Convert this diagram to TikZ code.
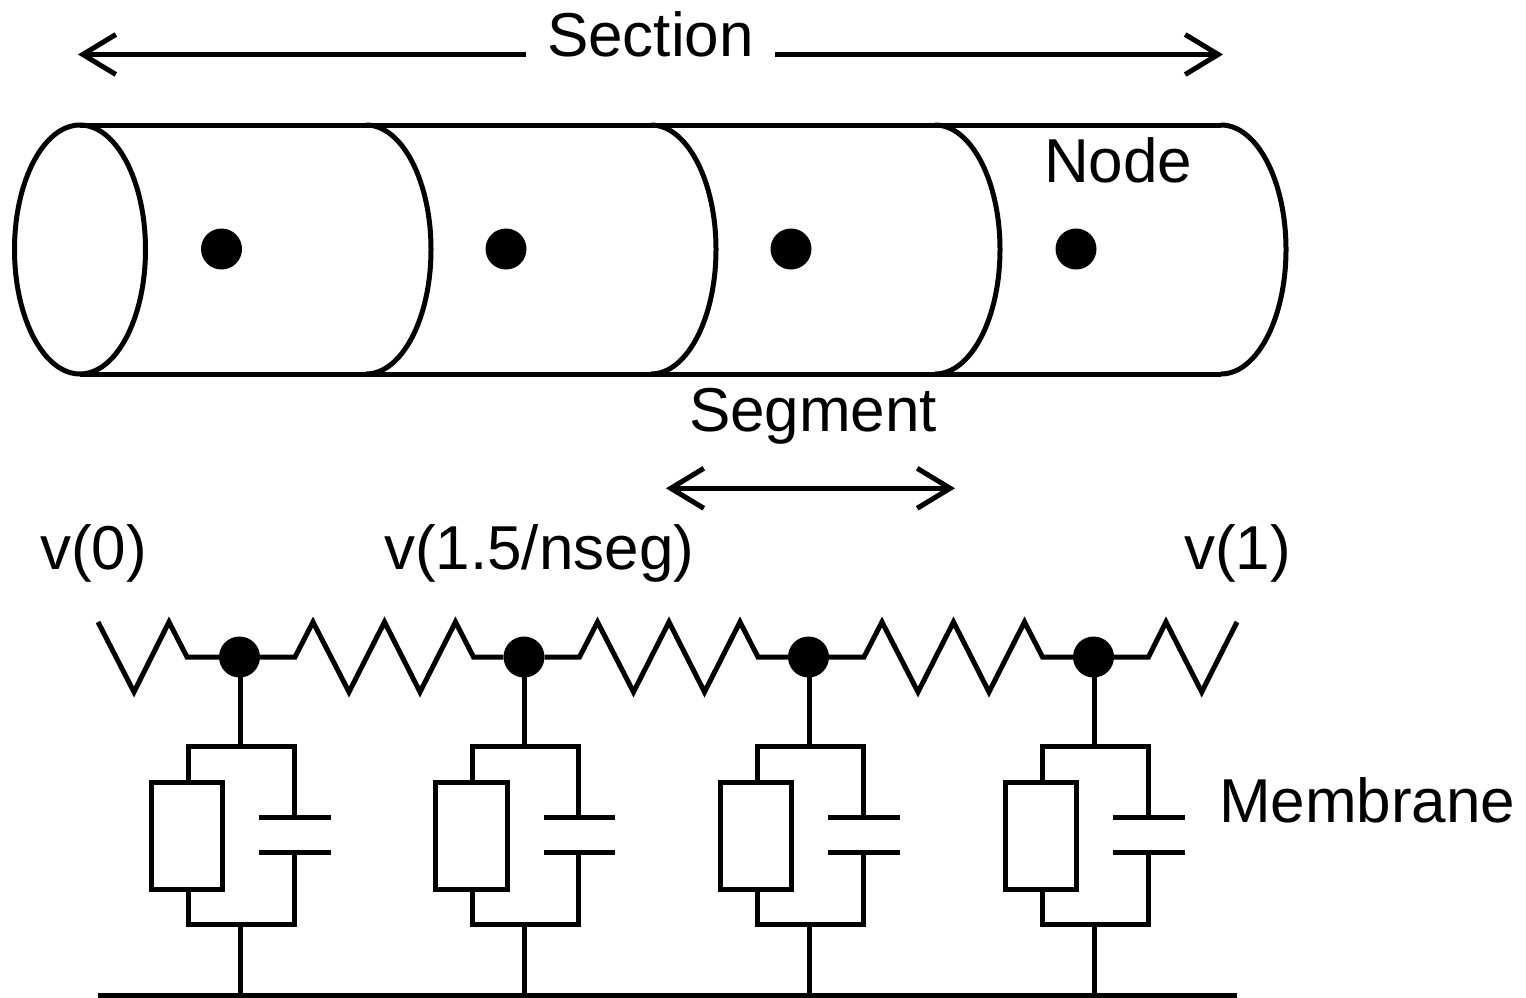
\documentclass[tikz,border=0pt]{standalone}
\usepackage{fontspec}
\setmainfont{Liberation Sans}
\usetikzlibrary{arrows.meta}
\tikzset{
  x=1pt,y=-1pt,
  wire/.style={line width=5pt,draw=black,line join=miter,miter limit=10},
  barbl/.style={wire,{Straight Barb[length=33pt,width=40pt,line width=5pt]}-},
  barbr/.style={wire,-{Straight Barb[length=33pt,width=40pt,line width=5pt]}},
  barbb/.style={wire,{Straight Barb[length=33pt,width=40pt,line width=5pt]}-{Straight Barb[length=33pt,width=40pt,line width=5pt]}},
  lab/.style={anchor=base west,inner sep=0pt,outer sep=0pt,font=\fontsize{62pt}{68pt}\selectfont},
  dot/.style={circle,fill=black,draw=none,inner sep=0pt,minimum size=41pt},
  resbox/.style={rectangle,draw=black,fill=white,line width=5pt,inner sep=0pt,minimum width=71.4pt,minimum height=106.7pt},
}
\begin{document}
\begin{tikzpicture}
\useasboundingbox (0,0) rectangle (1526,998);
% labels
\node[lab] (section) at (547,57) {Section};
\node[lab] (nodelab) at (1044,182) {Node};
\node[lab] (segment) at (689,431) {Segment};
\node[lab] (v0) at (40,569) {v(0)};
\node[lab] (vmid) at (384,569) {v(1.5/nseg)};
\node[lab] (v1) at (1184,569) {v(1)};
\node[lab] (membrane) at (1219,822) {Membrane};
% dimension arrows
\coordinate (secL) at (78,54.5);
\coordinate (secLi) at (526,54.5);
\coordinate (secRi) at (775,54.5);
\coordinate (secR) at (1223,54.5);
\coordinate (segL) at (666,488.3);
\coordinate (segR) at (955,488.3);
\draw[barbl] (secL) -- (secLi);
\draw[barbr] (secRi) -- (secR);
\draw[barbb] (segL) -- (segR);
% cylinder
\draw[wire] (80,249.5) ellipse[x radius=65.5pt,y radius=124.5pt];
\draw[wire] (80,125) -- (1221,125);
\draw[wire] (80,374) -- (1221,374);
\foreach \c in {366,651,935,1221}{
  \draw[wire] (\c,125) arc[start angle=90,end angle=-90,x radius=65pt,y radius=124.5pt];
}
\foreach \i/\x in {1/221.5,2/506,3/791,4/1076}{
  \node[dot] (seg\i) at (\x,249) {};
}
% ladder
\coordinate (railL) at (98,995.7);
\coordinate (railR) at (1237,995.7);
\draw[wire] (railL) -- (railR);
\foreach \i/\x in {1/240,2/524.5,3/809,4/1094}{
  \begin{scope}[shift={(\x,0)}]
    \node[dot] (j\i) at (-0.5,657) {};
    \coordinate (top\i) at (0,746.7);
    \coordinate (bot\i) at (0,924.7);
    \coordinate (rail\i) at (0,995.7);
    \coordinate (tl\i) at (-52,746.7);
    \coordinate (tr\i) at (54,746.7);
    \coordinate (bl\i) at (-52,924.7);
    \coordinate (br\i) at (54,924.7);
    \node[resbox] (r\i) at (-53,835.7) {};
    \coordinate (capa\i) at (54,817);
    \coordinate (capb\i) at (54,852.3);
    \draw[wire] (top\i |- j\i) -- (top\i);
    \draw[wire] (r\i.north -| tl\i) -- (tl\i) -- (tr\i) -- (capa\i);
    \draw[wire] (r\i.south -| bl\i) -- (bl\i) -- (br\i) -- (capb\i);
    \draw[wire] (bot\i) -- (rail\i);
    \draw[wire] (19.3,817) -- (90.7,817);
    \draw[wire] (19.3,852.3) -- (90.7,852.3);
  \end{scope}
}
% resistor zig-zags
\coordinate (zs) at (98,622);
\coordinate (ze) at (1237,622);
\draw[wire] (zs) -- (134,692) -- (169,622) -- (187,657) -- (j1);
\foreach \i/\n/\x in {1/2/240,2/3/524.5,3/4/809}{
  \draw[wire] (j\i) -- (\x+55,657) -- (\x+73,622) -- (\x+109,692) -- (\x+144.5,622) -- (\x+180,692) -- (\x+215.5,622) -- (\x+233.5,657) -- (j\n);
}
\draw[wire] (j4) -- (1148.5,657) -- (1166,622) -- (1201.7,692) -- (ze);
\end{tikzpicture}
\end{document}
